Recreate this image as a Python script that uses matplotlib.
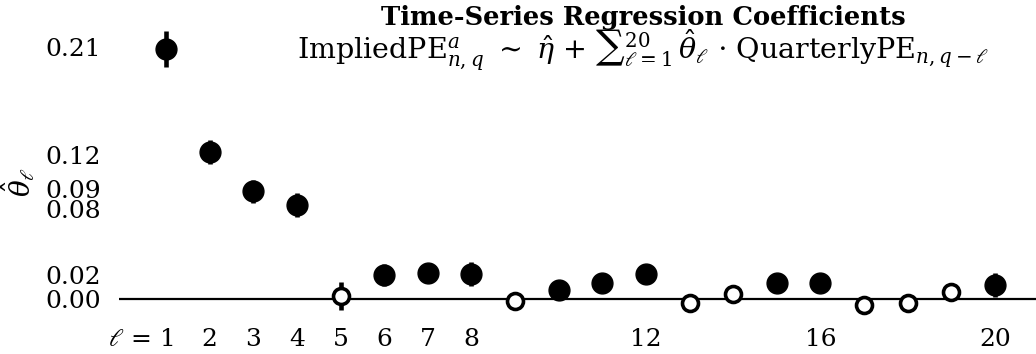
import matplotlib
matplotlib.use('Agg')
import matplotlib.pyplot as plt
import matplotlib.transforms as mtransforms
import numpy as np

# lag coefficients
lags = list(range(1, 21))
coef = [0.209, 0.1225, 0.0901, 0.0783, 0.0027, 0.0202, 0.0216, 0.0207, -0.0014, 0.0077,
        0.0133, 0.0207, -0.0028, 0.0041, 0.0133, 0.0133, -0.0047, -0.0028, 0.0063, 0.0119]
err = [0.015, 0.010, 0.0095, 0.010, 0.012, 0.0095, 0.007, 0.010, 0.006, 0.006,
       0.006, 0.007, 0.006, 0.006, 0.006, 0.006, 0.006, 0.006, 0.006, 0.0102]
significant = [1, 1, 1, 1, 0, 1, 1, 1, 0, 1, 1, 1, 0, 0, 1, 1, 0, 0, 0, 1]

x_ticks = [1, 2, 3, 4, 5, 6, 7, 8, 12, 16, 20]
x_labels = [r'$\ell$ = 1', '2', '3', '4', '5', '6', '7', '8', '12', '16', '20']
y_ticks = [0.00, 0.02, 0.08, 0.09, 0.12, 0.21]
y_labels = ['0.00', '0.02', '0.08', '0.09', '0.12', '0.21']

plt.rcParams['font.family'] = ['DejaVu Serif']
plt.rcParams['mathtext.fontset'] = 'dejavuserif'

fig = plt.figure(figsize=(10.36, 3.54), dpi=100)
ax = fig.add_axes([119 / 1036, 34 / 354, 917 / 1036, 300 / 354])

ax.axhline(0, color='black', lw=1.6, zorder=1)

lags_a = np.array(lags)
coef_a = np.array(coef)
err_a = np.array(err)
sig_a = np.array(significant, dtype=bool)

ax.errorbar(lags_a, coef_a, yerr=err_a, fmt='none', ecolor='black', elinewidth=3.3,
            capsize=0, zorder=2, clip_on=False)
ax.plot(lags_a[sig_a], coef_a[sig_a], 'o', color='black', markersize=15, zorder=3,
        clip_on=False)
ax.plot(lags_a[~sig_a], coef_a[~sig_a], 'o', markerfacecolor='white', markeredgecolor='black',
        markeredgewidth=2.6, markersize=11.5, zorder=3, clip_on=False)

x0 = 1 - 47 / 43.63
x1 = 20 + 41 / 43.63
ax.set_xlim(x0, x1)
ax.set_ylim(-(320 - 299.3) / 1200, (299.3 - 20) / 1200)

ax.set_xticks(x_ticks)
ax.set_xticklabels(x_labels, fontsize=18)
ax.set_yticks(y_ticks)
ax.set_yticklabels(y_labels, fontsize=18)
ax.tick_params(length=0, pad=13)
ax.tick_params(axis='x', pad=6)
for s in ax.spines.values():
    s.set_visible(False)

# first x label is right-aligned so that the "1" sits on the tick
lab = ax.get_xticklabels()[0]
lab.set_ha('right')
lab.set_transform(lab.get_transform() + mtransforms.ScaledTranslation(8 / 100, 0, fig.dpi_scale_trans))
# nudge the crowded y labels apart
ylabs = ax.get_yticklabels()
ylabs[2].set_transform(ylabs[2].get_transform() + mtransforms.ScaledTranslation(0, -6 / 100, fig.dpi_scale_trans))
ylabs[3].set_transform(ylabs[3].get_transform() + mtransforms.ScaledTranslation(0, 2 / 100, fig.dpi_scale_trans))

fig.text(18 / 1036, 1 - 182 / 354, r'$\hat{\theta}_\ell$', rotation=90, fontsize=20,
         ha='center', va='center')

fig.text(643 / 1036, 1 - 17 / 354, 'Time-Series Regression Coefficients', fontsize=18.6,
         fontweight='bold', ha='center', va='center')
fig.text(643 / 1036, 1 - 50 / 354,
         r'ImpliedPE$^a_{n,q}$ $\sim$ $\hat{\eta}$ + ${\sum}_{\ell=1}^{20}\,\hat{\theta}_\ell$ $\cdot$ QuarterlyPE$_{n,q-\ell}$',
         fontsize=20.5, ha='center', va='center')

fig.savefig('out.png', dpi=100)
